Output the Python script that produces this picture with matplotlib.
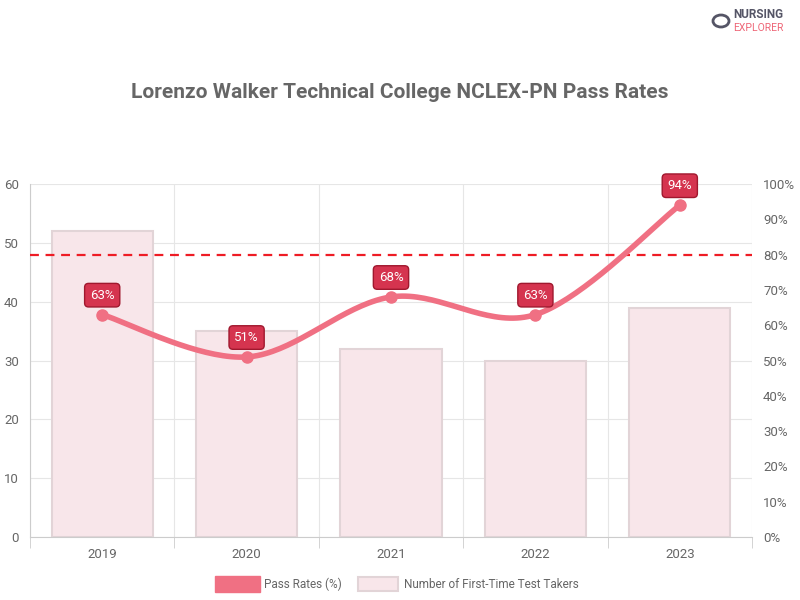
import matplotlib
matplotlib.use("Agg")
import matplotlib.pyplot as plt
import numpy as np
from matplotlib.patches import Rectangle

years = ["2019", "2020", "2021", "2022", "2023"]
takers = [52, 35, 32, 30, 39]
pass_rates = [63, 51, 68, 63, 94]
benchmark = 80

plt.rcParams['font.family'] = ['Roboto', 'DejaVu Sans']
fig = plt.figure(figsize=(8, 6), dpi=100)
ax = fig.add_axes([30/800, 1-537/600, 722/800, 353/600])
x = np.arange(len(years))
ax.bar(x, takers, width=0.7, color='#f8e6ea', edgecolor='#e2d4d7', linewidth=1.5, zorder=2)
ax.set_xlim(-0.5, 4.5)
ax.set_ylim(0, 60)
ax.set_yticks(range(0, 61, 10))
ax.set_xticks(x)
ax.set_xticklabels(years)
ax.grid(True, color='#e6e6e6', linewidth=0.8, zorder=0)
ax.set_xticks(np.arange(-0.5, 5, 1), minor=True)
ax.grid(True, which='minor', axis='x', color='#e6e6e6', linewidth=0.8)
ax.grid(False, which='major', axis='x')
ax.tick_params(axis='both', colors='#666666', labelsize=9.5, length=0, pad=8)
ax.tick_params(axis='x', which='minor', length=8, color='#cccccc')
for s in ['top', 'right']:
    ax.spines[s].set_visible(False)
for s in ['left', 'bottom']:
    ax.spines[s].set_color('#cccccc')

ax2 = ax.twinx()
ax2.set_ylim(0, 100)
ax2.set_yticks(range(0, 101, 10))
ax2.set_yticklabels([f"{v}%" for v in range(0, 101, 10)])
ax2.tick_params(colors='#666666', labelsize=9.5, length=0, pad=8)
for s in ax2.spines.values():
    s.set_visible(False)
ax2.axhline(benchmark, color='#ee1c25', linestyle=(0, (4, 3)), linewidth=1.6, zorder=3)

# smooth curve (Catmull-Rom through the data points)
P = np.column_stack([x, pass_rates]).astype(float)
pts = np.vstack([P[0], P, P[-1]])
xs, ys = [], []
for i in range(1, len(pts) - 2):
    p0, p1, p2, p3 = pts[i-1], pts[i], pts[i+1], pts[i+2]
    t = np.linspace(0, 1, 40)[:, None]
    c = 0.5 * ((2*p1) + (-p0+p2)*t + (2*p0-5*p1+4*p2-p3)*t**2 + (-p0+3*p1-3*p2+p3)*t**3)
    xs.extend(c[:, 0]); ys.extend(c[:, 1])
ax2.plot(xs, ys, color='#f07083', linewidth=4, zorder=4, solid_capstyle='round')
ax2.plot(x, pass_rates, 'o', color='#f07083', markersize=8, zorder=5)
for xi, v in zip(x, pass_rates):
    ax2.annotate(f"{v}%", (xi, v), xytext=(0, 14), textcoords='offset points',
                 ha='center', va='center', color='white', fontsize=9.5, zorder=6,
                 bbox=dict(boxstyle='round,pad=0.4,rounding_size=0.3', fc='#d5344f', ec='#a0182e', lw=1))

fig.text(0.5, 1-92/600, "Lorenzo Walker Technical College NCLEX-PN Pass Rates",
         ha='center', va='center', fontsize=15, fontweight='bold', color='#666666')

# legend
fig.patches.append(Rectangle((215/800, 1-592/600), 45/800, 16/600, transform=fig.transFigure,
                             fc='#f07083', ec='#f07083'))
fig.text(264/800, 1-584/600, "Pass Rates (%)", va='center', fontsize=8.5, color='#666666')
fig.patches.append(Rectangle((358/800, 1-591/600), 40/800, 14/600, transform=fig.transFigure,
                             fc='#f8e6ea', ec='#e2d4d7', lw=1.5))
fig.text(404/800, 1-584/600, "Number of First-Time Test Takers", va='center', fontsize=8.5, color='#666666')

# logo
fig.text(733/800, 1-15/600, "NURSING", fontsize=8.5, fontweight='bold', color='#555566', va='center')
fig.text(733/800, 1-28/600, "EXPLORER", fontsize=7.5, color='#ee6677', va='center')
fig.patches.append(matplotlib.patches.Circle((721/800, 1-21/600), 8/800, transform=fig.transFigure,
                                             fc='none', ec='#555566', lw=2))

fig.savefig("out.png", dpi=100, facecolor='white')
